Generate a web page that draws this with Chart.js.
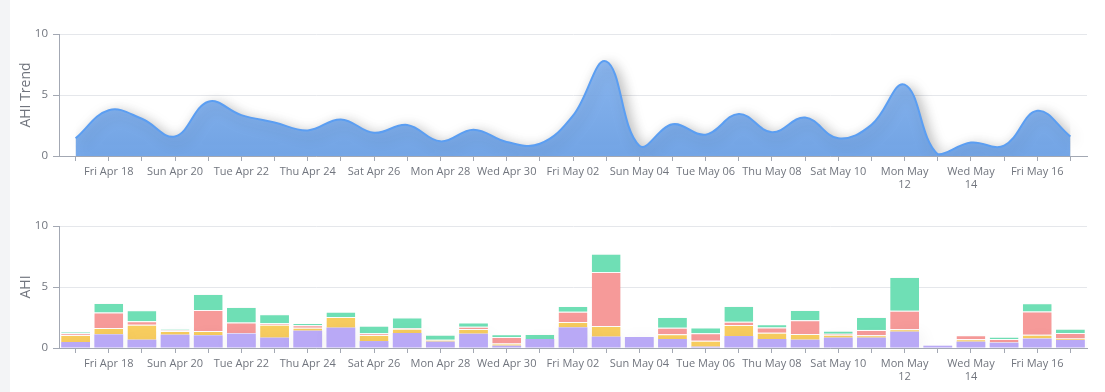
<!DOCTYPE html>
<html>
<head>
<meta charset="utf-8">
<script src="https://cdn.jsdelivr.net/npm/chart.js@4.4.1/dist/chart.umd.min.js"></script>
<style>
  html, body { margin: 0; padding: 0; background: #fff; }
  body { width: 1105px; height: 392px; position: relative; overflow: hidden; font-family: "Open Sans", "Noto Sans", sans-serif; }
  .strip { position: absolute; left: 0; top: 0; width: 10px; height: 392px; background: #f3f4f6; }
  .box { position: absolute; left: 10px; width: 1095px; height: 196px; }
  #top-box { top: 0; }
  #bottom-box { top: 196px; }
</style>
</head>
<body>
<div class="strip"></div>
<div class="box" id="top-box"><canvas id="trend-chart"></canvas></div>
<div class="box" id="bottom-box"><canvas id="ahi-chart"></canvas></div>
<script>
const DAYS = ['Thu Apr 17','Fri Apr 18','Sat Apr 19','Sun Apr 20','Mon Apr 21','Tue Apr 22','Wed Apr 23','Thu Apr 24','Fri Apr 25','Sat Apr 26',
    'Sun Apr 27','Mon Apr 28','Tue Apr 29','Wed Apr 30','Thu May 01','Fri May 02','Sat May 03','Sun May 04','Mon May 05','Tue May 06',
    'Wed May 07','Thu May 08','Fri May 09','Sat May 10','Sun May 11','Mon May 12','Tue May 13','Wed May 14','Thu May 15','Fri May 16','Sat May 17'];

// labels that wrap onto two lines in the picture
const WRAPPED = { 'Mon May 12': ['Mon May', '12'], 'Wed May 14': ['Wed May', '14'] };

const TREND = [1.45, 3.75, 3.05, 1.6, 4.45, 3.35, 2.75, 2.1, 3.0, 1.9,
    2.55, 1.2, 2.15, 1.15, 1.0, 3.3, 7.75, 0.85, 2.6, 1.75,
    3.45, 1.95, 3.15, 1.45, 2.55, 5.85, 0.15, 1.1, 0.85, 3.7, 1.6];

const PURPLE = [0.49, 1.12, 0.68, 1.09, 1.04, 1.18, 0.85, 1.42, 1.67, 0.57,
    1.23, 0.52, 1.17, 0.19, 0.74, 1.69, 0.93, 0.9, 0.74, 0.11,
    0.98, 0.74, 0.68, 0.85, 0.85, 1.34, 0.19, 0.52, 0.44, 0.77, 0.66];
const YELLOW = [0.58, 0.52, 1.23, 0.3, 0.35, 0.03, 1.06, 0.25, 0.87, 0.5,
    0.35, 0.16, 0.39, 0.17, 0, 0.44, 0.87, 0, 0.38, 0.49,
    0.91, 0.52, 0.47, 0.24, 0.19, 0.19, 0, 0.19, 0.03, 0.32, 0.11];
const RED = [0.13, 1.28, 0.28, 0.06, 1.72, 0.89, 0.11, 0.19, 0, 0.13,
    0.03, 0, 0.19, 0.54, 0, 0.85, 4.43, 0, 0.55, 0.6,
    0.27, 0.43, 1.12, 0.08, 0.44, 1.53, 0, 0.33, 0.27, 1.91, 0.46];
const GREEN = [0.14, 0.77, 0.9, 0.11, 1.32, 1.26, 0.74, 0.19, 0.44, 0.63,
    0.9, 0.41, 0.35, 0.22, 0.41, 0.46, 1.5, 0, 0.87, 0.49,
    1.28, 0.25, 0.84, 0.25, 1.06, 2.76, 0, 0.03, 0.19, 0.66, 0.35];

const Y_TICKS = [0, 5, 10];

const AXIS_COLOR = '#a3a8b3';
const GRID_COLOR = '#e5e7eb';
const TEXT_COLOR = '#71757e';
const FONT = '"Open Sans", "Noto Sans", sans-serif';

const shadowPlugin = {
    id: 'shadow',
    beforeDatasetsDraw(chart, args, opts) {
        const ctx = chart.ctx;
        ctx.save();
        ctx.shadowColor = opts.color;
        ctx.shadowBlur = opts.blur;
        ctx.shadowOffsetX = opts.x;
        ctx.shadowOffsetY = opts.y;
    },
    afterDatasetsDraw(chart) {
        chart.ctx.restore();
    }
};

function xScale(h) {
    return {
        offset: true,
        border: { color: AXIS_COLOR },
        grid: { display: true, drawOnChartArea: false, color: AXIS_COLOR, tickLength: 5, offset: false },
        ticks: {
            autoSkip: false,
            maxRotation: 0,
            color: TEXT_COLOR,
            font: { size: 11, family: FONT },
            padding: 4,
            callback(v, i) {
                if (i % 2 === 0) return '';
                const lbl = DAYS[i];
                return WRAPPED[lbl] || lbl;
            }
        },
        afterFit(s) { s.height = h; }
    };
}

function yScale(title) {
    return {
        min: 0, max: 10,
        border: { color: AXIS_COLOR },
        grid: { color: GRID_COLOR, tickColor: AXIS_COLOR, tickLength: 6 },
        afterBuildTicks(s) { s.ticks = Y_TICKS.map(v => ({ value: v })); },
        ticks: { color: TEXT_COLOR, font: { size: 11.5, family: FONT }, padding: 5 },
        title: { display: true, text: title, color: TEXT_COLOR, font: { size: 14, family: FONT }, padding: { top: 8, bottom: 0 } },
        afterFit(s) { s.width = 49; }
    };
}

function renderTrend() {
    const ctx = document.getElementById('trend-chart');
    const c = ctx.getContext('2d');
    new Chart(ctx, {
        type: 'line',
        data: {
            labels: DAYS,
            datasets: [{
                data: TREND,
                borderColor: '#5b9ef2',
                borderWidth: 2,
                pointRadius: 0,
                tension: 0.4,
                fill: 'origin',
                backgroundColor(context) {
                    const area = context.chart.chartArea;
                    if (!area) return 'rgba(120,170,238,0.9)';
                    const g = c.createLinearGradient(0, area.top, 0, area.bottom);
                    g.addColorStop(0, 'rgba(140,186,246,0.92)');
                    g.addColorStop(1, 'rgba(108,162,232,0.92)');
                    return g;
                }
            }]
        },
        options: {
            responsive: true,
            maintainAspectRatio: false,
            animation: false,
            layout: { padding: { top: 34, right: 18, left: 0, bottom: 0 } },
            plugins: {
                legend: { display: false },
                tooltip: { enabled: false },
                shadow: { color: 'rgba(0,0,0,0.3)', blur: 14, x: 4, y: 4 }
            },
            scales: { x: xScale(40), y: yScale('AHI Trend') }
        },
        plugins: [shadowPlugin]
    });
}

function renderBars() {
    const ctx = document.getElementById('ahi-chart');
    const series = [
        { data: PURPLE, color: '#b9a9f6' },
        { data: YELLOW, color: '#f8cd5f' },
        { data: RED, color: '#f69a99' },
        { data: GREEN, color: '#6fdfb5' }
    ];
    new Chart(ctx, {
        type: 'bar',
        data: {
            labels: DAYS,
            datasets: series.map((s, i) => ({
                data: s.data,
                backgroundColor: s.color,
                borderColor: 'rgba(255,255,255,0.3)',
                borderWidth: i === 0 ? 0 : { top: 1, left: 0, right: 0, bottom: 0 },
                borderSkipped: false,
                categoryPercentage: 1,
                barPercentage: 0.87
            }))
        },
        options: {
            responsive: true,
            maintainAspectRatio: false,
            animation: false,
            layout: { padding: { top: 30, right: 18, left: 0, bottom: 0 } },
            plugins: {
                legend: { display: false },
                tooltip: { enabled: false },
                shadow: { color: 'rgba(0,0,0,0.07)', blur: 18, x: 3, y: 3 }
            },
            scales: {
                x: Object.assign(xScale(44), { stacked: true }),
                y: Object.assign(yScale('AHI'), { stacked: true })
            }
        },
        plugins: [shadowPlugin]
    });
}

renderTrend();
renderBars();
</script>
</body>
</html>
